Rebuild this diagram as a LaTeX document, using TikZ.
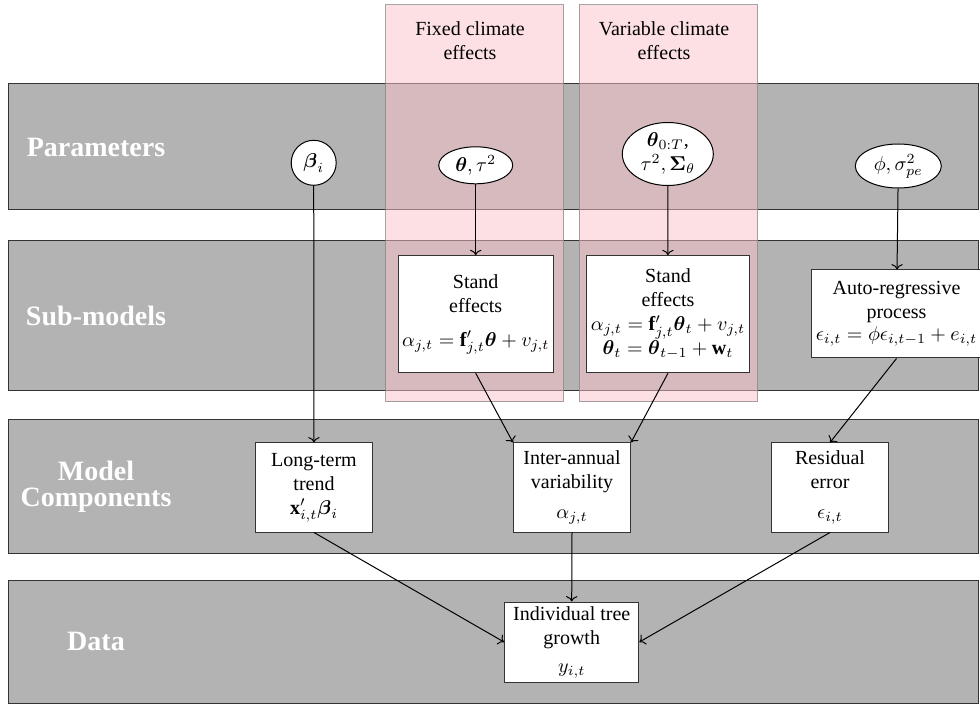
\documentclass[tikz,border=0pt]{standalone}
\usepackage{amsmath,amssymb}
\usepackage{fontspec}
\setmainfont{Liberation Serif}
\usepackage{tikz}
\usetikzlibrary{shapes.geometric, arrows.meta, positioning}

\definecolor{rosa}{RGB}{251,193,201}
\definecolor{gris}{RGB}{179,179,179}

\tikzset{
  banda/.style={draw=black!80, fill=gris, line width=0.5pt},
  etiqueta/.style={text=white, font=\fontsize{14}{13}\selectfont\bfseries, align=center},
  columna/.style={draw=black!50, fill=rosa, fill opacity=0.5, draw opacity=0.7, line width=0.5pt},
  caja/.style={draw=black!80, fill=white, line width=0.5pt, align=center, inner sep=2pt},
  param/.style={draw=black, fill=white, ellipse, line width=0.5pt, inner sep=1pt, align=center},
  flecha/.style={->, line width=0.5pt}
}

\begin{document}
\begin{tikzpicture}[x=0.5pt, y=-0.5pt]
        \useasboundingbox (0,0) rectangle (980,705);
        % Bandas de fondo con sus etiquetas
        \foreach \ya/\yb/\nombre in {84/210/Parameters, 241/391/Sub-models, 420/553/{Model\\Components}, 580/703.5/Data} {
            \draw[banda] (8,\ya) rectangle (978,\yb);
            \node[etiqueta] (lbl\ya) at (96,{(\ya+\yb)/2}) {\nombre};
        }
        % Columnas de efectos climaticos
        \draw[columna] (385.7,4.7) rectangle (563.7,402);
        \draw[columna] (579.3,4.7) rectangle (757.7,402);
        \node[align=center] (tfijo) at (470,41) {Fixed climate\\effects};
        \node[align=center] (tvar) at (664,41) {Variable climate\\effects};
        % Parametros
        \node[draw, circle, fill=white, line width=0.5pt, minimum size=22.5pt, inner sep=0pt] (beta) at (313.7,162.8) {$\boldsymbol{\beta}_i$};
        \node[param, minimum width=37pt, minimum height=18.5pt] (thfijo) at (475.7,165.3) {$\boldsymbol{\theta},\tau^2$};
        \node[param, inner sep=0pt, minimum width=45.5pt, minimum height=31.5pt] (thvar) at (667.8,154) {$\boldsymbol{\theta}_{0:T}$,\\$\tau^2,\boldsymbol{\Sigma}_\theta$};
        \node[param, minimum width=43pt, minimum height=22pt] (phi) at (898.3,166) {$\phi,\sigma^2_{pe}$};
        % Sub-modelos
        \node[caja, minimum width=74.5pt, minimum height=58.5pt] (standfijo) at (475.7,314.2) {Stand\\effects\\[5pt]$\alpha_{j,t}=\mathbf{f}'_{j,t}\boldsymbol{\theta}+v_{j,t}$};
        \node[caja, minimum width=77.7pt, minimum height=58.5pt] (standvar) at (668,314.2) {Stand\\effects\\$\alpha_{j,t}=\mathbf{f}'_{j,t}\boldsymbol{\theta}_t+v_{j,t}$\\$\boldsymbol{\theta}_t=\boldsymbol{\theta}_{t-1}+\mathbf{w}_t$};
        \node[caja, minimum width=80.5pt, minimum height=44pt] (autoreg) at (896.5,314) {Auto-regressive\\process\\[-1pt]$\epsilon_{i,t}=\phi\epsilon_{i,t-1}+e_{i,t}$};
        % Componentes del modelo
        \node[caja, minimum width=58.5pt, minimum height=44.5pt] (trend) at (314,487.5) {Long-term\\trend\\$\mathbf{x}'_{i,t}\boldsymbol{\beta}_i$};
        \node[caja, minimum width=58.5pt, minimum height=44.5pt] (inter) at (572,487.5) {Inter-annual\\variability\\[3pt]$\alpha_{j,t}$};
        \node[caja, minimum width=58.5pt, minimum height=44.5pt] (residual) at (830,487.5) {Residual\\error\\[3pt]$\epsilon_{i,t}$};
        % Datos
        \node[caja, minimum width=67.2pt, minimum height=40pt] (growth) at (571.7,642) {Individual tree\\growth\\[2pt]$y_{i,t}$};
        % Flechas
        \draw[flecha] (beta) -- (trend);
        \draw[flecha] (thfijo) -- (standfijo);
        \draw[flecha] (thvar) -- (standvar);
        \draw[flecha] (phi) -- (autoreg);
        \draw[flecha] (standfijo.south) -- (inter.north west);
        \draw[flecha] (standvar.south) -- (inter.north east);
        \draw[flecha] (autoreg.south) -- (residual.north);
        \draw[flecha] (trend.south) -- (growth.west);
        \draw[flecha] (inter.south) -- (growth.north);
        \draw[flecha] (residual.south) -- (growth.east);
\end{tikzpicture}
\end{document}
